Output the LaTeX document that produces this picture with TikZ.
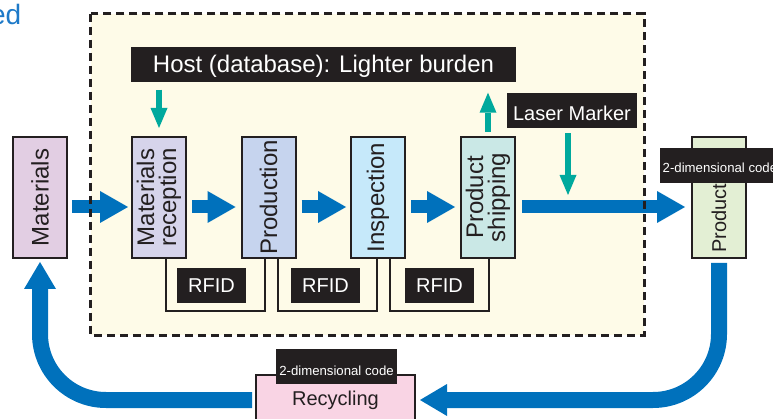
\documentclass[tikz,border=0pt]{standalone}
\usepackage{fontspec}
\setmainfont{Liberation Sans}
\usetikzlibrary{arrows.meta}

\definecolor{flowblue}{RGB}{0,113,188}
\definecolor{markteal}{RGB}{0,169,157}
\definecolor{ink}{RGB}{35,31,32}
\definecolor{cream}{RGB}{254,251,232}
\definecolor{headblue}{RGB}{30,122,200}
\definecolor{cMat}{RGB}{226,206,227}
\definecolor{cRecv}{RGB}{214,212,235}
\definecolor{cProd}{RGB}{198,212,238}
\definecolor{cInsp}{RGB}{198,233,250}
\definecolor{cShip}{RGB}{202,232,230}
\definecolor{cGoods}{RGB}{227,239,212}
\definecolor{cRecy}{RGB}{249,212,228}

\begin{document}
\begin{tikzpicture}[x=1pt,y=-1pt,
  stage/.style={draw=ink, line width=2pt, minimum width=54pt, minimum height=121pt, inner sep=0pt},
  vtext/.style={rotate=90, align=center, font=\fontsize{24}{22}\selectfont, text=ink, inner sep=0pt},
  tag/.style={fill=ink, text=white, inner xsep=0pt, inner ysep=0pt, text depth=0pt, minimum height=35pt},
  flow/.style={draw=flowblue, line width=13pt, -{Triangle[width=32pt,length=28pt,line width=0pt]}},
  loopflow/.style={draw=flowblue, line width=16pt, rounded corners=66pt, -{Triangle[width=32pt,length=27pt,line width=0pt]}},
  tealarrow/.style={draw=markteal, line width=6.5pt, -{Triangle[width=17pt,length=20pt,line width=0pt]}},
  bracket/.style={draw=ink, line width=1.6pt},
  plantborder/.style={draw=ink, line width=2.8pt, line cap=butt, dash pattern=on 8pt off 5pt},
]
\useasboundingbox (0,0) rectangle (773,419);
\clip (0,0) rectangle (773,419);

% heading fragment
\node[anchor=base east, font=\fontsize{28}{30}\selectfont, text=headblue, inner sep=0pt] (headfrag) at (21.5,24.5) {ed};

% plant area background
\node[fill=cream, inner sep=0pt, minimum width=553pt, minimum height=321pt] (plant) at (367.5,174.5) {};

% lane of the main flow
\coordinate (lane) at (0,207);

% process stages
\node[stage, fill=cMat]   (materials) at (40,197.5) {};
\node[stage, fill=cRecv]  (recv)      at (159,197.5) {};
\node[stage, fill=cProd]  (prod)      at (268.5,197.5) {};
\node[stage, fill=cInsp]  (insp)      at (378,197.5) {};
\node[stage, fill=cShip]  (ship)      at (488,197.5) {};
\node[stage, fill=cGoods] (goods)     at (719,197.5) {};

\node[vtext] (materialsT) at (materials) {Materials};
\node[vtext] (recvT) at (recv) {Materials\\reception};
\node[vtext] (prodT) at (prod) {Production};
\node[vtext] (inspT) at (insp) {Inspection};
\node[vtext] (shipT) at (ship) {Product\\shipping};
\node[vtext, font=\fontsize{20}{22}\selectfont] (goodsT) at (719,218) {Product};

\node[draw=ink, line width=2pt, fill=cRecy, minimum width=159pt, minimum height=50pt,
      inner sep=0pt, font=\fontsize{20}{24}\selectfont, text=ink] (recyc) at (335.5,400) {Recycling};

% labels
\node[tag, minimum width=385pt, text height=16pt, font=\fontsize{24}{28}\selectfont] (host) at (323.5,65) {Host (database): Lighter burden};
\node[tag, minimum width=130pt, text height=20.3pt, font=\fontsize{20}{24}\selectfont] (laser) at (572,110.5) {Laser Marker};

\node[tag, minimum width=69pt, text height=14.3pt, font=\fontsize{20}{24}\selectfont] (rfidA) at (211.5,285.5) {RFID};
\node[tag, minimum width=69pt, text height=14.3pt, font=\fontsize{20}{24}\selectfont] (rfidB) at (325.5,285.5) {RFID};
\node[tag, minimum width=69pt, text height=14.3pt, font=\fontsize{20}{24}\selectfont] (rfidC) at (439.5,285.5) {RFID};

\node[tag, anchor=west, inner xsep=2.5pt, text height=20pt, text depth=6pt, font=\fontsize{13.2}{16}\selectfont] (goodsCode) at (660,165.5) {2-dimensional code};
\node[tag, minimum width=121pt, text height=22pt, text depth=4pt, font=\fontsize{13.2}{16}\selectfont] (recyCode) at (336.5,366.5) {2-dimensional code};

% RFID links between neighbouring stages
\draw[bracket] ([xshift=7pt]recv.south) -- ++(0,52) -| ([xshift=-3.5pt]prod.south);
\draw[bracket] ([xshift=9.5pt]prod.south) -- ++(0,52) -| ([xshift=-1pt]insp.south);
\draw[bracket] ([xshift=12pt]insp.south) -- ++(0,52) -| ([xshift=1pt]ship.south);

% main material flow
\draw[flow, shorten <=4pt, shorten >=3pt] (materials.east |- lane) -- (recv.west |- lane);
\draw[flow, shorten <=5pt, shorten >=5pt] (recv.east |- lane) -- (prod.west |- lane);
\draw[flow, shorten <=5pt, shorten >=4pt] (prod.east |- lane) -- (insp.west |- lane);
\draw[flow, shorten <=5pt, shorten >=5pt] (insp.east |- lane) -- (ship.west |- lane);
\draw[flow, shorten <=6pt, shorten >=6pt] (ship.east |- lane) -- (goods.west |- lane);

% recycling loop
\draw[loopflow, shorten <=4pt, shorten >=4pt] (goods.south) |- (recyc.east);
\draw[loopflow, shorten <=3pt, shorten >=3pt] (recyc.west) -| (materials.south);

% data exchange with the host and the marker
\draw[tealarrow, shorten <=7pt, shorten >=8pt] (recv.north |- host.south) -- (recv.north);
\draw[tealarrow, shorten <=4pt, shorten >=10pt] (ship.north) -- (ship.north |- host.south);
\draw[tealarrow, shorten <=5pt, shorten >=12pt] ([xshift=-4pt]laser.south) -- ([xshift=-4pt]laser.south |- lane);

% plant area border
\draw[plantborder] (plant.north west) rectangle (plant.south east);
\end{tikzpicture}
\end{document}
